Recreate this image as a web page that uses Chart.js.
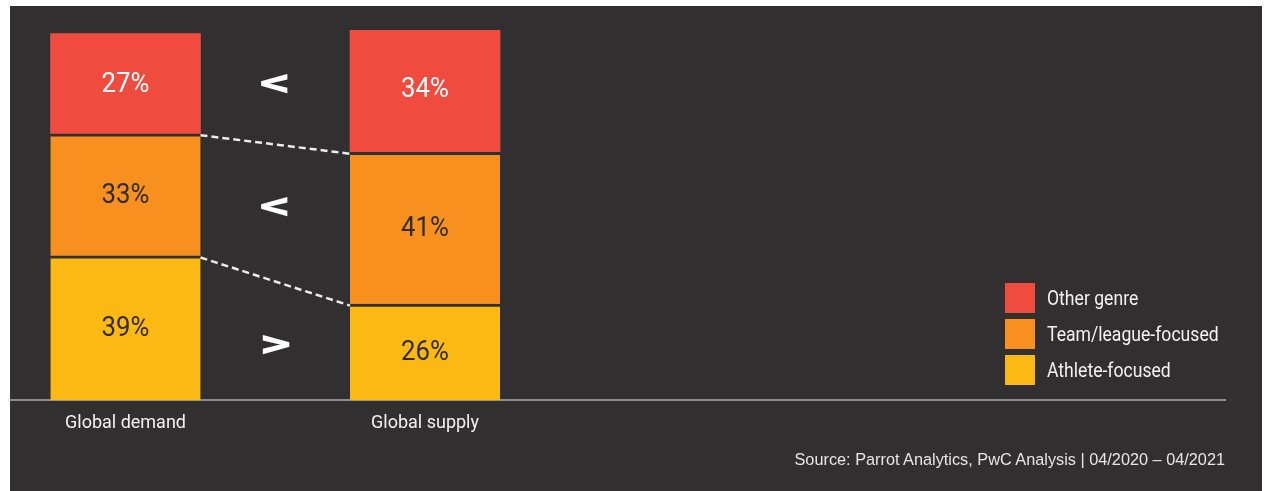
<!DOCTYPE html>
<html>
<head>
<meta charset="utf-8">
<script src="https://cdn.jsdelivr.net/npm/chart.js@4"></script>
<style>
  body { margin: 0; background: #fff; }
  #panel { position: absolute; left: 10px; top: 6px; width: 1252px; height: 485px; background: #312f30; }
  #legend { position: absolute; left: 995px; top: 274px; font-family: 'Roboto', sans-serif; font-size: 20px; color: #f2f2f2; }
  #legend div { height: 36px; display: flex; align-items: center; white-space: nowrap; }
  #legend span.box { display: inline-block; width: 30px; height: 30px; margin-right: 12px; }
  #legend span.txt { display: inline-block; transform: scaleX(0.88); transform-origin: left center; }
  #source { position: absolute; right: 37px; top: 444px; font-family: 'Liberation Sans', Arial, sans-serif; font-size: 16.3px; color: #e6e6e6; }
</style>
</head>
<body>
<div id="panel">
  <canvas id="myChart" width="1252" height="485"></canvas>
  <div id="legend"></div>
  <div id="source">Source: Parrot Analytics, PwC Analysis | 04/2020 – 04/2021</div>
</div>
<script>
const categories = ['Global demand', 'Global supply'];
const athlete = [39, 26];
const teamLeague = [33, 41];
const otherGenre = [27, 34];

const seriesNames = ['Athlete-focused', 'Team/league-focused', 'Other genre'];
const seriesColors = ['#fdb913', '#f7901e', '#ef4b3f'];
const labelColors = ['#2e2c2d', '#2e2c2d', '#ffffff'];
const bg = '#312f30';

function toPoints(values) {
    return values.map((v, i) => ({ x: i, y: v }));
}

const datasets = [athlete, teamLeague, otherGenre].map((values, i) => ({
    label: seriesNames[i],
    data: toPoints(values),
    backgroundColor: seriesColors[i],
    borderColor: bg,
    borderWidth: i < 2 ? { top: 3, left: 0, right: 0, bottom: 0 } : 0,
    borderSkipped: false,
    barThickness: 150
}));

// html legend, top entry = top segment
const legendEl = document.getElementById('legend');
for (let i = seriesNames.length - 1; i >= 0; i--) {
    const row = document.createElement('div');
    row.innerHTML = `<span class="box" style="background:${seriesColors[i]}"></span><span class="txt">${seriesNames[i]}</span>`;
    legendEl.appendChild(row);
}

const barLabels = {
    id: 'barLabels',
    afterDatasetsDraw(chart) {
        const ctx = chart.ctx;
        ctx.save();
        ctx.textAlign = 'center';
        ctx.textBaseline = 'middle';
        ctx.font = '28px Roboto, sans-serif';
        chart.data.datasets.forEach((ds, i) => {
            chart.getDatasetMeta(i).data.forEach((el, j) => {
                ctx.save();
                ctx.translate(el.x, (el.y + el.base) / 2 + 1);
                ctx.scale(0.92, 1);
                ctx.fillStyle = labelColors[i];
                ctx.fillText(ds.data[j].y + '%', 0, 0);
                ctx.restore();
            });
        });

        // dashed connectors between segment boundaries
        ctx.strokeStyle = '#ececec';
        ctx.lineWidth = 2.5;
        ctx.setLineDash([7, 4]);
        [0, 1].forEach((i) => {
            const a = chart.getDatasetMeta(i).data[0];
            const b = chart.getDatasetMeta(i).data[1];
            ctx.beginPath();
            ctx.moveTo(a.x + a.width / 2, a.y + 1.5);
            ctx.lineTo(b.x - b.width / 2, b.y + 1.5);
            ctx.stroke();
        });
        ctx.setLineDash([]);

        // comparison signs, placed between the two segments
        ctx.fillStyle = '#ffffff';
        ctx.font = 'bold 40px Roboto, sans-serif';
        chart.data.datasets.forEach((ds, i) => {
            const els = chart.getDatasetMeta(i).data;
            const midX = (els[0].x + els[1].x) / 2;
            const avg = ((els[0].y + els[0].base) / 2 + (els[1].y + els[1].base) / 2) / 2;
            const overlap = (Math.max(els[0].y, els[1].y) + Math.min(els[0].base, els[1].base)) / 2;
            const midY = (avg + overlap) / 2 + 1;
            const sign = ds.data[0].y < ds.data[1].y ? '<' : '>';
            ctx.save();
            ctx.translate(midX, midY);
            ctx.scale(1.55, 1);
            ctx.fillText(sign, 0, 0);
            ctx.restore();
        });
        ctx.restore();
    }
};

const config = {
    type: 'bar',
    data: { datasets: datasets },
    options: {
        responsive: false,
        animation: false,
        layout: {
            padding: { top: 24, left: 0, right: 37, bottom: 45 }
        },
        plugins: {
            legend: { display: false },
            tooltip: { enabled: false }
        },
        scales: {
            x: {
                type: 'linear',
                stacked: true,
                offset: false,
                min: -0.3856,
                max: 3.671,
                afterBuildTicks: (scale) => {
                    scale.ticks = categories.map((c, i) => ({ value: i }));
                },
                ticks: {
                    callback: (v) => categories[v],
                    color: '#f2f2f2',
                    font: { family: 'Roboto', size: 18 },
                    padding: 12,
                    autoSkip: false,
                    maxRotation: 0
                },
                grid: { display: false, drawTicks: false },
                border: { display: true, color: '#8c8c8c', width: 2 }
            },
            y: {
                stacked: true,
                display: false,
                min: 0,
                max: 100
            }
        }
    },
    plugins: [barLabels]
};

const ctx = document.getElementById('myChart').getContext('2d');
new Chart(ctx, config);
</script>
</body>
</html>
